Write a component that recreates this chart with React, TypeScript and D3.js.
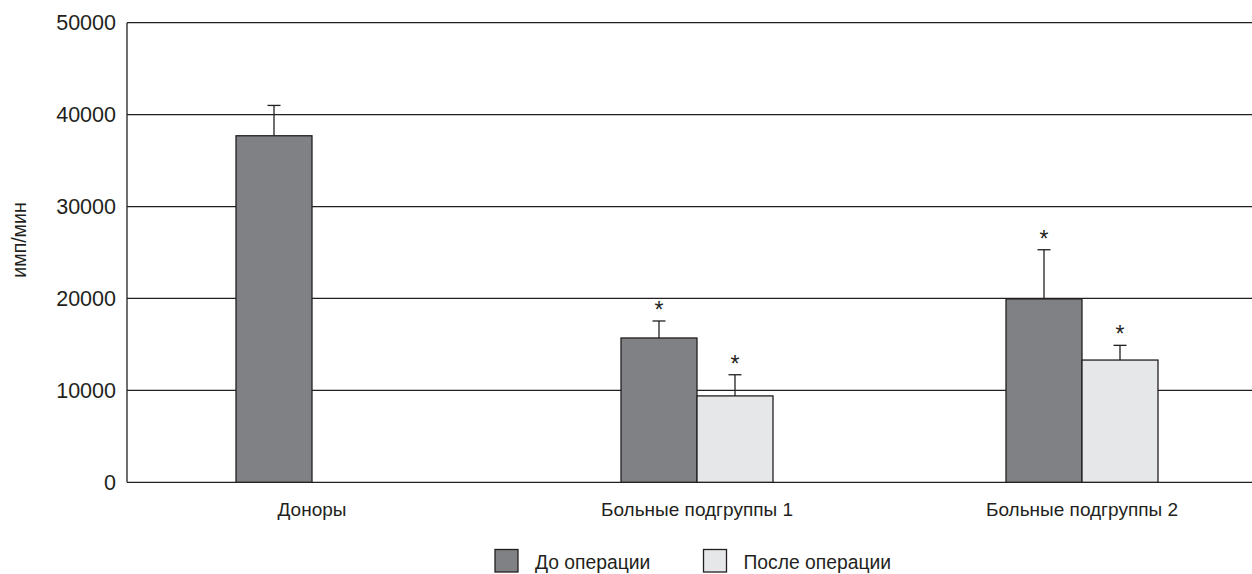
import React from "react";
import * as d3 from "d3";

const categories = ["Доноры", "Больные подгруппы 1", "Больные подгруппы 2"];
const seriesNames = ["До операции", "После операции"];
const beforeValues: (number | null)[] = [37700, 15700, 19950];
const beforeErrors: (number | null)[] = [41000, 17550, 25300];
const afterValues: (number | null)[] = [null, 9400, 13300];
const afterErrors: (number | null)[] = [null, 11700, 14900];
const beforeStars = [false, true, true];
const afterStars = [false, true, true];
const yTicks = [0, 10000, 20000, 30000, 40000, 50000];
const yLabel = "имп/мин";

const W = 1252;
const H = 574;
const plotLeft = 127;
const plotRight = 1252;
const plotTop = 22.7;
const plotBottom = 482.3;
const barW = 76;
const capW = 13;
const FONT = "'Liberation Sans', Arial, Helvetica, sans-serif";
const colors = ["#808184", "#e6e7e8"];
const strokeC = "#231f20";

export default function App() {
  const y = d3.scaleLinear().domain([0, 50000]).range([plotBottom, plotTop]);
  const x = d3.scalePoint<string>().domain(categories).range([312, 1082]);

  const series = [
    { vals: beforeValues, errs: beforeErrors, stars: beforeStars, color: colors[0], off: -barW },
    { vals: afterValues, errs: afterErrors, stars: afterStars, color: colors[1], off: 0 },
  ];

  return (
    <svg width={W} height={H} style={{ position: "absolute", left: 0, top: 0, background: "#fff" }} fontFamily={FONT}>
      {yTicks.map((t) => (
        <g key={t}>
          <line x1={plotLeft} x2={plotRight} y1={y(t)} y2={y(t)} stroke={strokeC} strokeWidth={1.3} />
          <text x={116} y={y(t)} dy="0.36em" textAnchor="end" fontSize={21.5} fill={strokeC}>
            {t}
          </text>
        </g>
      ))}
      <line x1={plotLeft} x2={plotLeft} y1={plotTop} y2={plotBottom} stroke={strokeC} strokeWidth={1.3} />
      <text
        transform={`translate(26, 240) rotate(-90)`}
        textAnchor="middle"
        fontSize={19.5}
        fill={strokeC}
      >
        {yLabel}
      </text>
      {series.map((s, si) =>
        categories.map((c, i) => {
          const v = s.vals[i];
          if (v == null) return null;
          const bx = (x(c) as number) + s.off;
          const cx = bx + barW / 2;
          const e = s.errs[i] as number;
          return (
            <g key={`${si}-${i}`}>
              <line x1={cx} x2={cx} y1={y(v)} y2={y(e)} stroke={strokeC} strokeWidth={1.3} />
              <line x1={cx - capW / 2} x2={cx + capW / 2} y1={y(e)} y2={y(e)} stroke={strokeC} strokeWidth={1.3} />
              <rect x={bx} y={y(v)} width={barW} height={plotBottom - y(v)} fill={s.color} stroke={strokeC} strokeWidth={1.3} />
              {s.stars[i] && (
                <text x={cx} y={y(e) - 3} textAnchor="middle" fontSize={23} fill={strokeC}>
                  *
                </text>
              )}
            </g>
          );
        })
      )}
      {categories.map((c) => (
        <text key={c} x={x(c) as number} y={516} textAnchor="middle" fontSize={19} fill={strokeC}>
          {c}
        </text>
      ))}
      {seriesNames.map((n, i) => {
        const lx = i === 0 ? 495 : 703.5;
        return (
          <g key={n}>
            <rect x={lx} y={549.5} width={23} height={22.5} fill={colors[i]} stroke={strokeC} strokeWidth={1.3} />
            <text x={lx + 40} y={569} fontSize={19.3} fill={strokeC}>
              {n}
            </text>
          </g>
        );
      })}
    </svg>
  );
}
